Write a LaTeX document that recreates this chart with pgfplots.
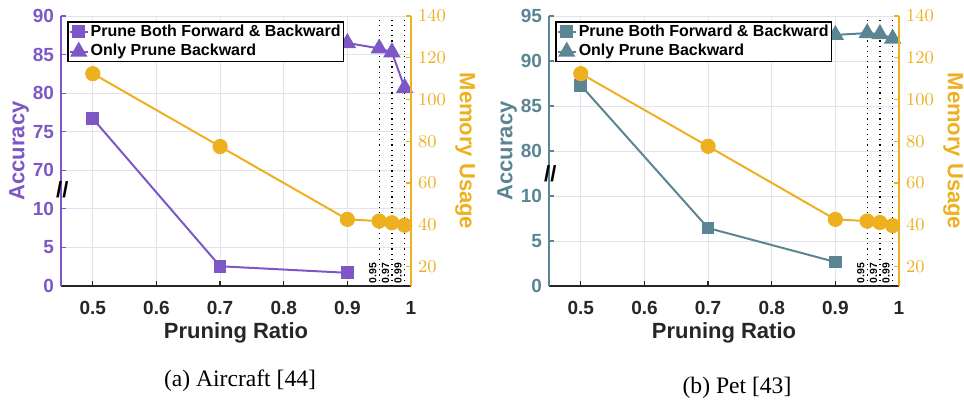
\documentclass[border=0pt]{standalone}
\usepackage{fontspec}
\setmainfont{Liberation Sans}
\newfontfamily\capfont{Liberation Serif}
\usepackage{pgfplots}
\usepackage{pgfplotstable}
\pgfplotsset{compat=1.18}

\definecolor{accA}{RGB}{126,87,198}
\definecolor{accB}{RGB}{91,133,147}
\definecolor{mem}{RGB}{237,177,32}
\definecolor{gridc}{RGB}{226,226,238}
\definecolor{axdark}{RGB}{38,38,38}

% accuracy (upper part of the broken axis is shifted down in y expr)
\pgfplotstableread{
x acc
0.5 76.7
0.7 2.56
0.9 1.71
}\bothA
\pgfplotstableread{
x acc
0.9 86.5
0.95 85.8
0.97 85.3
0.99 80.7
}\backA
\pgfplotstableread{
x mem
0.5 112.4
0.7 77.5
0.9 42.6
0.95 41.8
0.97 41.0
0.99 39.8
}\memA
\pgfplotstableread{
x acc
0.5 87.3
0.7 6.44
0.9 2.67
}\bothB
\pgfplotstableread{
x acc
0.9 92.9
0.95 93.1
0.97 93.0
0.99 92.5
}\backB
\pgfplotstableread{
x mem
0.5 112.4
0.7 77.6
0.9 42.6
0.95 41.8
0.97 41.1
0.99 39.6
}\memB

\newcommand{\tickfont}{\fontsize{9.5}{10}\bfseries\selectfont}
\newcommand{\labfont}{\fontsize{11}{13}\bfseries\selectfont}

\tikzset{
  rlab/.style={rotate=90, anchor=south west, inner sep=1.2pt, black, font=\fontsize{5.2}{5.2}\bfseries\selectfont},
  brk/.style={black, font=\fontsize{11}{11}\bfseries\selectfont, inner sep=0pt},
}

\pgfplotsset{
  panel/.style={
    width=175pt, height=135pt, scale only axis, clip=false,
    xmin=0.45, xmax=1,
    tick align=inside, major tick length=2.5pt,
    tick label style={font=\tickfont},
  },
  accaxis/.style={
    panel, axis y line*=left, axis x line*=bottom,
    xtick={0.5,0.6,0.7,0.8,0.9,1},
    xticklabels={0.5,0.6,0.7,0.8,0.9,1},
    x axis line style={axdark, line width=0.8pt},
    y axis line style={#1, line width=0.8pt},
    x tick style={axdark, line width=0.6pt},
    y tick style={#1, line width=0.6pt},
    xticklabel style={axdark, yshift=-4pt, font=\tickfont},
    yticklabel style={#1, font=\tickfont},
    xmajorgrids, ymajorgrids,
    grid style={gridc, line width=0.5pt},
    xlabel={Pruning Ratio}, ylabel={Accuracy},
    every axis x label/.style={at={(axis description cs:0.5,0)}, yshift=-23.5pt, anchor=center, axdark, font=\labfont},
    every axis y label/.style={at={(axis description cs:0,0.5)}, xshift=-21pt, rotate=90, anchor=center, #1, font=\labfont},
    legend cell align=left,
    legend style={at={(axis description cs:0.017,0.981)}, anchor=north west,
      draw=black, line width=0.8pt, fill=white,
      font=\fontsize{8}{9}\bfseries\selectfont,
      inner xsep=0.5pt, inner ysep=0.3pt, row sep=0.6pt,
      nodes={inner xsep=1pt, inner ysep=0.8pt, text height=6pt, text depth=1.7pt}},
    legend image code/.code={\draw[mark repeat=2,mark phase=2,##1] plot coordinates {(0pt,0pt) (4.5pt,0pt) (9pt,0pt)};},
  },
  memaxis/.style={
    panel, axis y line*=right, axis x line=none, xtick=\empty,
    ymin=10.7, ymax=140, ytick={20,40,60,80,100,120,140},
    y axis line style={mem, line width=0.8pt},
    y tick style={mem, line width=0.6pt},
    yticklabel style={mem, font=\tickfont},
    ylabel={Memory Usage},
    every axis y label/.style={at={(axis description cs:1,0.5)}, xshift=27pt, rotate=-90, anchor=center, mem, font=\labfont},
  },
  both/.style={#1, line width=1pt, mark=square*, mark size=2.7pt, mark options={solid}},
  back/.style={#1, line width=1pt, mark=triangle*, mark size=4pt, mark options={solid}},
  memline/.style={mem, line width=1pt, mark=*, mark size=3.3pt, mark options={solid}},
  vline/.style={black, dotted, line width=0.6pt, forget plot},
}

\begin{document}
\begin{tikzpicture}
\path[use as bounding box] (-30.5pt,-59pt) rectangle (451.5pt,143pt);

% ---------- (a) Aircraft ----------
\begin{axis}[accaxis=accA, at={(0pt,0pt)}, anchor=south west,
  ymin=0, ymax=35, ytick={0,5,10,15,20,25,30,35},
  yticklabels={0,5,10,70,75,80,85,90}]
\addplot[vline] coordinates {(0.95,0) (0.95,35)};
\addplot[vline] coordinates {(0.97,0) (0.97,35)};
\addplot[vline] coordinates {(0.99,0) (0.99,35)};
\addplot[both=accA] table[x=x, y expr={ifthenelse(\thisrow{acc}>50, \thisrow{acc}-55, \thisrow{acc})}] {\bothA};
\addplot[back=accA] table[x=x, y expr={ifthenelse(\thisrow{acc}>50, \thisrow{acc}-55, \thisrow{acc})}] {\backA};
\legend{Prune Both Forward \& Backward, Only Prune Backward}
\node[rlab] at (axis cs:0.95,0) {0.95};
\node[rlab] at (axis cs:0.97,0) {0.97};
\node[rlab] at (axis cs:0.99,0) {0.99};
\node[brk] at (axis cs:0.452,12.5) {//};
\end{axis}
\begin{axis}[memaxis, at={(0pt,0pt)}, anchor=south west]
\addplot[memline] table[x=x, y=mem] {\memA};
\end{axis}

% ---------- (b) Pet ----------
\begin{axis}[accaxis=accB, at={(244pt,0pt)}, anchor=south west,
  ymin=0, ymax=30, ytick={0,5,10,15,20,25,30},
  yticklabels={0,5,10,80,85,90,95}]
\addplot[vline] coordinates {(0.95,0) (0.95,30)};
\addplot[vline] coordinates {(0.97,0) (0.97,30)};
\addplot[vline] coordinates {(0.99,0) (0.99,30)};
\addplot[both=accB] table[x=x, y expr={ifthenelse(\thisrow{acc}>50, \thisrow{acc}-65, \thisrow{acc})}] {\bothB};
\addplot[back=accB] table[x=x, y expr={ifthenelse(\thisrow{acc}>50, \thisrow{acc}-65, \thisrow{acc})}] {\backB};
\legend{Prune Both Forward \& Backward, Only Prune Backward}
\node[rlab] at (axis cs:0.95,0) {0.95};
\node[rlab] at (axis cs:0.97,0) {0.97};
\node[rlab] at (axis cs:0.99,0) {0.99};
\node[brk] at (axis cs:0.452,12.5) {//};
\end{axis}
\begin{axis}[memaxis, at={(244pt,0pt)}, anchor=south west]
\addplot[memline] table[x=x, y=mem] {\memB};
\end{axis}

% captions
\node[font=\capfont\fontsize{11.8}{13}\selectfont, text=black] at (89.5pt,-47.5pt) {(a) Aircraft [44]};
\node[font=\capfont\fontsize{11.8}{13}\selectfont, text=black] at (338pt,-51pt) {(b) Pet [43]};
\end{tikzpicture}
\end{document}
